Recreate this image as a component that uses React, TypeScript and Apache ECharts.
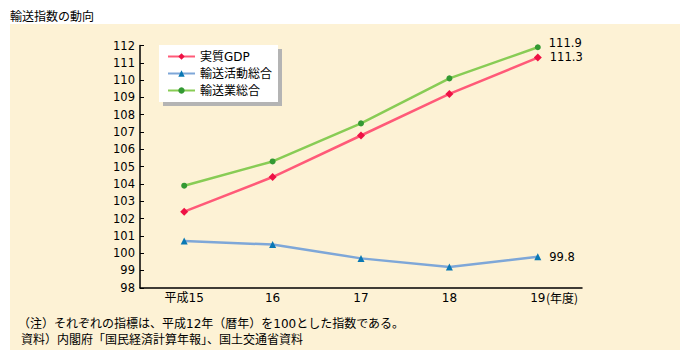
import React, { useEffect, useRef } from "react";
import * as echarts from "echarts";

const categories = ["平成15", "16", "17", "18", "19"];
const gdp = [102.4, 104.4, 106.8, 109.2, 111.3];
const transportActivity = [100.7, 100.5, 99.7, 99.2, 99.8];
const transportIndustry = [103.9, 105.3, 107.5, 110.1, 111.9];
const yTicks = { min: 98, max: 112, interval: 1 };

const FONT = "'DejaVu Sans', 'Noto Sans CJK JP', sans-serif";
const CJK = "'Noto Sans CJK JP', sans-serif";

export default function App() {
  const ref = useRef<HTMLDivElement>(null);
  useEffect(() => {
    if (!ref.current) return;
    const chart = echarts.init(ref.current, null, { renderer: "svg" });
    const lastLabel = (dy: number) => ({
      show: true,
      position: "right",
      distance: 8,
      offset: [0, dy],
      fontSize: 11.5,
      lineHeight: 12,
      color: "#000",
      fontFamily: FONT,
      formatter: (p: any) => (p.dataIndex === categories.length - 1 ? String(p.value) : ""),
    });
    const mkSeries = (
      name: string,
      data: number[],
      lineColor: string,
      markColor: string,
      symbol: string,
      size: number,
      dy: number
    ) => ({
      name,
      type: "line",
      data,
      symbol,
      symbolSize: size,
      lineStyle: { color: lineColor, width: 2.5 },
      itemStyle: { color: markColor },
      label: lastLabel(dy),
      z: 3,
    });
    const txt = (x: number, y: number, text: string, font = CJK) => ({
      type: "text",
      x,
      y,
      style: { text, fontSize: 12, lineHeight: 13, fill: "#000", fontFamily: font, verticalAlign: "middle" },
    });
    chart.setOption({
      animation: false,
      textStyle: { fontFamily: FONT },
      graphic: [
        {
          type: "rect",
          shape: { x: 10, y: 24, width: 670, height: 326 },
          style: { fill: "#fdf2d5" },
          z: -10,
        },
        txt(10, 15, "輸送指数の動向"),
        txt(546, 297.5, "(年度)"),
        txt(18, 323.5, "（注）それぞれの指標は、平成12年（暦年）を100とした指数である。", FONT),
        txt(21, 338.5, "資料）内閣府「国民経済計算年報」、国土交通省資料", CJK),
      ],
      legend: {
        orient: "vertical",
        left: 159,
        top: 45,
        padding: [5, 6, 5, 8],
        itemWidth: 27,
        itemHeight: 8,
        itemGap: 4,
        backgroundColor: "#ffffff",
        shadowColor: "#b4b4b4",
        shadowOffsetX: 4,
        shadowOffsetY: 4,
        shadowBlur: 0,
        textStyle: { fontSize: 12, lineHeight: 13, color: "#000", fontFamily: FONT },
        data: ["実質GDP", "輸送活動総合", "輸送業総合"],
      },
      grid: { left: 140, right: 108, top: 45.5, bottom: 73.2 },
      xAxis: {
        type: "category",
        data: categories,
        boundaryGap: true,
        axisLine: { show: true, lineStyle: { color: "#000", width: 1.5 } },
        axisTick: { show: false },
        axisLabel: { fontSize: 12, color: "#000", margin: 4, fontFamily: FONT },
      },
      yAxis: {
        type: "value",
        min: yTicks.min,
        max: yTicks.max,
        interval: yTicks.interval,
        axisLine: { show: true, lineStyle: { color: "#000", width: 1.5 } },
        axisTick: { show: true, inside: true, length: 4, lineStyle: { color: "#000" } },
        axisLabel: { fontSize: 11.5, color: "#000", margin: 5, fontFamily: FONT },
        splitLine: { show: false },
      },
      series: [
        mkSeries("実質GDP", gdp, "#ff5a78", "#ee1144", "diamond", 8, -1),
        mkSeries("輸送活動総合", transportActivity, "#7ea7d8", "#0a78b4", "triangle", 7, 0),
        mkSeries("輸送業総合", transportIndustry, "#88cc55", "#339933", "circle", 6, -4.5),
      ],
    });
    return () => chart.dispose();
  }, []);
  return (
    <div
      ref={ref}
      style={{ position: "absolute", left: 0, top: 0, width: 690, height: 361, background: "#fff" }}
    />
  );
}
